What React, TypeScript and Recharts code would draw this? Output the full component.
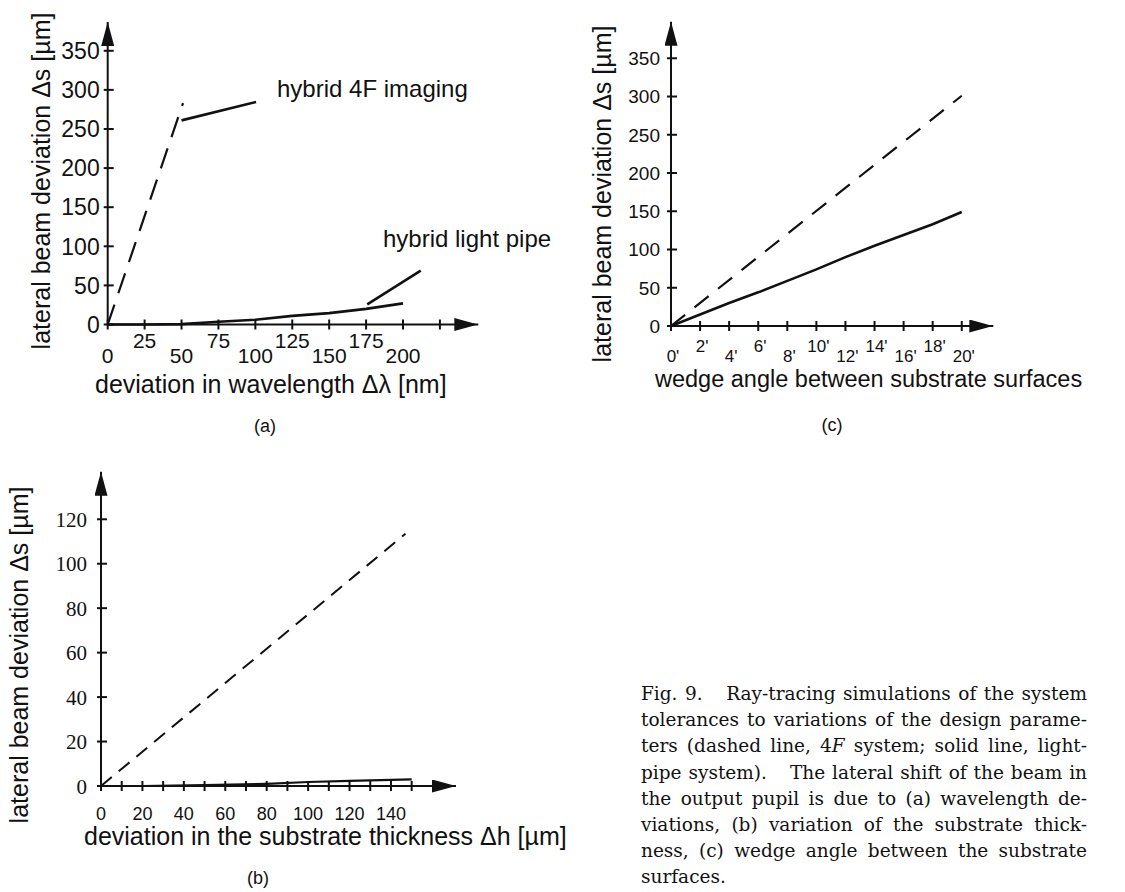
import { LineChart, Line, XAxis, YAxis, ReferenceLine } from 'recharts';

const INK = '#111';
const SANS = '"Liberation Sans", Arial, sans-serif';
const SERIF = '"Liberation Serif", "Times New Roman", serif';
const CAPTION_FONT = '"DejaVu Serif", serif';

// (a) deviation in wavelength
const wavelengthTicks = [0, 25, 50, 75, 100, 125, 150, 175, 200, 225];
const wavelengthLabels = ['0', '25', '50', '75', '100', '125', '150', '175', '200', ''];
const shiftTicksA = [0, 50, 100, 150, 200, 250, 300, 350];
const dashedWavelength = [0, 51];
const dashedShiftA = [0, 283];
const pipeWavelength = [0, 25, 50, 75, 100, 125, 150, 175, 200];
const pipeShiftA = [0, 0, 0.5, 3.5, 6, 11, 14.5, 20, 27];
const leader4F = [{ x: 50, y: 261 }, { x: 100.5, y: 284.5 }];
const leaderPipe = [{ x: 175.8, y: 25.8 }, { x: 212, y: 69 }];

// (b) deviation in substrate thickness
const thicknessTicks = [0, 10, 20, 30, 40, 50, 60, 70, 80, 90, 100, 110, 120, 130, 140, 150];
const shiftTicksB = [0, 20, 40, 60, 80, 100, 120];
const dashedThickness = [0, 147];
const dashedShiftB = [0, 113.5];
const pipeThickness = [0, 20, 50, 80, 100, 120, 150];
const pipeShiftB = [0, 0, 0.4, 1, 1.8, 2.3, 3];

// (c) wedge angle
const wedgeTicks = [0, 2, 4, 6, 8, 10, 12, 14, 16, 18, 20];
const wedgeLabels = ["0'", "2'", "4'", "6'", "8'", "10'", "12'", "14'", "16'", "18'", "20'"];
const shiftTicksC = [0, 50, 100, 150, 200, 250, 300, 350];
const dashedWedge = [0, 20];
const dashedShiftC = [0, 301];
const pipeWedge = [0, 2, 4, 6, 8, 10, 12, 14, 16, 18, 20];
const pipeShiftC = [0, 15, 30, 44, 59, 74, 90, 105, 119, 133, 149];

const captionLines = [
  'tolerances to variations of the design parame-',
  'the output pupil is due to (a) wavelength de-',
  'viations, (b) variation of the substrate thick-',
  'ness, (c) wedge angle between the substrate',
];

const zip = (xs: number[], ys: number[]) => xs.map((x, i) => ({ x, y: ys[i] }));

const yTick = (fontSize: number, fontFamily: string, gap: number) => (p: any) => (
  <g>
    <line x1={p.x - 4} x2={p.x + 6} y1={p.y} y2={p.y} stroke={INK} strokeWidth={2} />
    <text x={p.x - gap} y={p.y} dy="0.36em" textAnchor="end" fontSize={fontSize} fontFamily={fontFamily} fill={INK}>
      {p.payload.value}
    </text>
  </g>
);

const xTick = (labels: string[], rows: number[], fontSize: number, dx = 0) => (p: any) => (
  <g>
    <line x1={p.x} x2={p.x} y1={p.y - 5} y2={p.y + 5} stroke={INK} strokeWidth={2} />
    <text x={p.x + dx} y={p.y + rows[p.index % rows.length]} textAnchor="middle" fontSize={fontSize} fontFamily={SANS} fill={INK}>
      {labels[p.index]}
    </text>
  </g>
);

const axisX = { stroke: INK, strokeWidth: 2, markerEnd: 'url(#arrowHead)' };
const axisY = { stroke: INK, strokeWidth: 2, markerStart: 'url(#arrowHead)' };
const AXW = 60; // y axis band width
const AXH = 40; // x axis band height

function ChartA() {
  return (
    <div style={{ position: 'absolute', left: 0, top: 0 }}>
      <LineChart width={560} height={440} margin={{ top: 22, left: 107.7 - AXW, right: 81.7, bottom: 115.5 - AXH }}>
        <XAxis type="number" dataKey="x" domain={[0, 251]} ticks={wavelengthTicks} interval={0} height={AXH}
          tickSize={0} tickMargin={0} tickLine={false} axisLine={axisX}
          tick={xTick(wavelengthLabels, [38.5, 23.5], 21)} />
        <YAxis type="number" dataKey="y" domain={[0, 386.8]} ticks={shiftTicksA} interval={0} width={AXW}
          tickSize={0} tickMargin={0} tickLine={false} axisLine={axisY} tick={yTick(23, SANS, 8)} />
        <Line data={zip(dashedWavelength, dashedShiftA)} dataKey="y" stroke={INK} strokeWidth={2.2}
          strokeDasharray="21 12" dot={false} isAnimationActive={false} />
        <Line data={zip(pipeWavelength, pipeShiftA)} dataKey="y" stroke={INK} strokeWidth={2.6}
          dot={false} isAnimationActive={false} />
        <ReferenceLine segment={leader4F} stroke={INK} strokeWidth={2.6} />
        <ReferenceLine segment={leaderPipe} stroke={INK} strokeWidth={2.6} />
      </LineChart>
    </div>
  );
}

function ChartB() {
  const labels = thicknessTicks.map((t) => (t % 20 === 0 ? String(t) : ''));
  return (
    <div style={{ position: 'absolute', left: 0, top: 440 }}>
      <LineChart width={560} height={452} margin={{ top: 31.7, left: 101 - AXW, right: 104, bottom: 106 - AXH }}>
        <XAxis type="number" dataKey="x" domain={[0, 171.4]} ticks={thicknessTicks} interval={0} height={AXH}
          tickSize={0} tickMargin={0} tickLine={false} axisLine={axisX}
          tick={xTick(labels, [34], 18)} />
        <YAxis type="number" dataKey="y" domain={[0, 141.4]} ticks={shiftTicksB} interval={0} width={AXW}
          tickSize={0} tickMargin={0} tickLine={false} axisLine={axisY} tick={yTick(21, SERIF, 14)} />
        <Line data={zip(dashedThickness, dashedShiftB)} dataKey="y" stroke={INK} strokeWidth={2}
          strokeDasharray="14 9" dot={false} isAnimationActive={false} />
        <Line data={zip(pipeThickness, pipeShiftB)} dataKey="y" stroke={INK} strokeWidth={2.2}
          dot={false} isAnimationActive={false} />
      </LineChart>
    </div>
  );
}

function ChartC() {
  return (
    <div style={{ position: 'absolute', left: 560, top: 0 }}>
      <LineChart width={565} height={440} margin={{ top: 21.7, left: 111 - AXW, right: 131.7, bottom: 114 - AXH }}>
        <XAxis type="number" dataKey="x" domain={[0, 22.17]} ticks={wedgeTicks} interval={0} height={AXH}
          tickSize={0} tickMargin={0} tickLine={false} axisLine={axisX}
          tick={xTick(wedgeLabels, [35.5, 25.5], 17, 2)} />
        <YAxis type="number" dataKey="y" domain={[0, 397.8]} ticks={shiftTicksC} interval={0} width={AXW}
          tickSize={0} tickMargin={0} tickLine={false} axisLine={axisY} tick={yTick(19, SANS, 11)} />
        <Line data={zip(dashedWedge, dashedShiftC)} dataKey="y" stroke={INK} strokeWidth={2.2}
          strokeDasharray="18 12" dot={false} isAnimationActive={false} />
        <Line data={zip(pipeWedge, pipeShiftC)} dataKey="y" stroke={INK} strokeWidth={2.6}
          dot={false} isAnimationActive={false} />
      </LineChart>
    </div>
  );
}

function Texts() {
  const t = { fill: INK, fontFamily: SANS };
  return (
    <svg width={1125} height={892} style={{ position: 'absolute', left: 0, top: 0, pointerEvents: 'none' }}>
      <text {...t} fontSize={25} textAnchor="middle" transform="translate(50,181) rotate(-90)">lateral beam deviation Δs [µm]</text>
      <text {...t} fontSize={25} x={95} y={393}>deviation in wavelength Δλ [nm]</text>
      <text {...t} fontSize={24} x={277} y={97}>hybrid 4F imaging</text>
      <text {...t} fontSize={24} x={383} y={247}>hybrid light pipe</text>
      <text {...t} fontSize={18} x={265} y={432} textAnchor="middle">(a)</text>

      <text {...t} fontSize={25} textAnchor="middle" transform="translate(611,194) rotate(-90)">lateral beam deviation Δs [µm]</text>
      <text {...t} fontSize={23.5} x={655} y={387}>wedge angle between substrate surfaces</text>
      <text {...t} fontSize={18} x={832} y={431} textAnchor="middle">(c)</text>

      <text {...t} fontSize={25} textAnchor="middle" transform="translate(28,655) rotate(-90)">lateral beam deviation Δs [µm]</text>
      <text {...t} fontSize={25} x={84} y={845}>deviation in the substrate thickness Δh [µm]</text>
      <text {...t} fontSize={18} x={258} y={884} textAnchor="middle">(b)</text>
    </svg>
  );
}

function Caption() {
  const line = { height: 26.2, lineHeight: '26.2px', textAlign: 'justify' as const, textAlignLast: 'justify' as const };
  const gap = <span style={{ display: 'inline-block', width: 16 }} />;
  return (
    <div style={{ position: 'absolute', left: 641, top: 681, width: 446, fontFamily: CAPTION_FONT, fontSize: 18.5, color: INK }}>
      <div style={line}>Fig. 9.{gap} Ray-tracing simulations of the system</div>
      <div style={line}>{captionLines[0]}</div>
      <div style={line}>ters (dashed line, 4<i>F</i> system; solid line, light-</div>
      <div style={line}>pipe system).{gap} The lateral shift of the beam in</div>
      <div style={line}>{captionLines[1]}</div>
      <div style={line}>{captionLines[2]}</div>
      <div style={line}>{captionLines[3]}</div>
      <div style={{ ...line, textAlignLast: 'left' }}>surfaces.</div>
    </div>
  );
}

export default function App() {
  return (
    <div style={{ position: 'absolute', left: 0, top: 0, width: 1125, height: 892, overflow: 'hidden', background: '#fff' }}>
      <svg width={0} height={0} style={{ position: 'absolute' }}>
        <defs>
          <marker id="arrowHead" viewBox="0 0 24 13" refX={24} refY={6.5} markerWidth={24} markerHeight={13}
            markerUnits="userSpaceOnUse" orient="auto-start-reverse">
            <path d="M0,0 L24,6.5 L0,13 z" fill={INK} />
          </marker>
        </defs>
      </svg>
      <ChartA />
      <ChartB />
      <ChartC />
      <Texts />
      <Caption />
    </div>
  );
}
